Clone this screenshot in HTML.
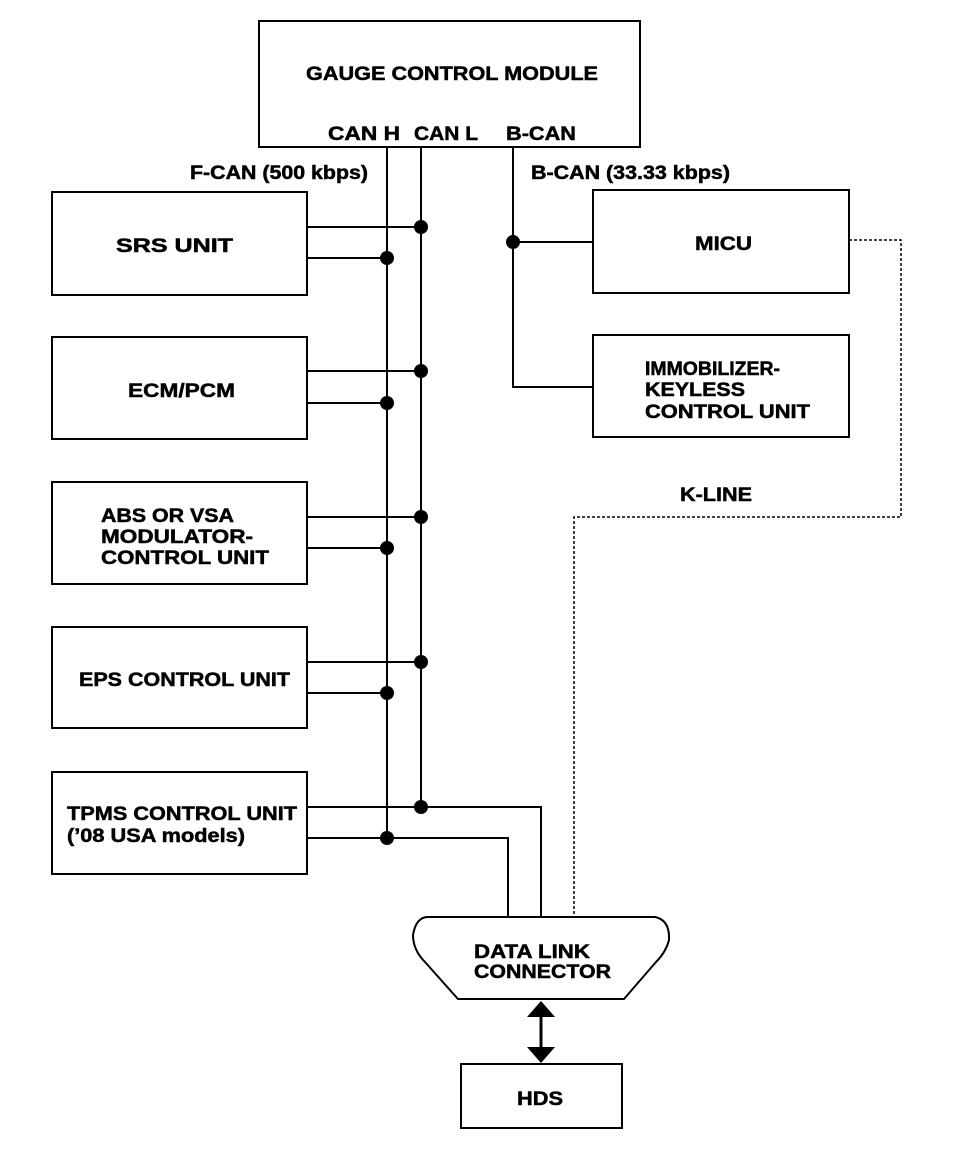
<!DOCTYPE html>
<html><head><meta charset="utf-8"><style>
html,body{margin:0;padding:0;background:#fff}
svg{display:block}
text{font-family:"Liberation Sans",Arial,sans-serif;font-weight:bold;font-size:19px;fill:#000;stroke:#000;stroke-width:0.5}
</style></head><body>
<svg width="960" height="1166" viewBox="0 0 960 1166" xmlns="http://www.w3.org/2000/svg">
<g fill="none" stroke="#000" stroke-width="2">
<rect x="259" y="21" width="381" height="126"/>
<rect x="52" y="192" width="255" height="103"/>
<rect x="52" y="337" width="255" height="102"/>
<rect x="52" y="482" width="255" height="102"/>
<rect x="52" y="627" width="255" height="101"/>
<rect x="52" y="772" width="255" height="102"/>
<rect x="593" y="190" width="256" height="103"/>
<rect x="593" y="335" width="256" height="102"/>
<rect x="461" y="1064" width="161" height="64"/>
<line x1="387" y1="147" x2="387" y2="838"/>
<line x1="421" y1="147" x2="421" y2="807"/>
<polyline points="513,147 513,387 593,387"/>
<line x1="513" y1="242" x2="593" y2="242"/>
<line x1="307" y1="227" x2="421" y2="227"/>
<line x1="307" y1="258" x2="387" y2="258"/>
<line x1="307" y1="371" x2="421" y2="371"/>
<line x1="307" y1="403" x2="387" y2="403"/>
<line x1="307" y1="517" x2="421" y2="517"/>
<line x1="307" y1="548" x2="387" y2="548"/>
<line x1="307" y1="662" x2="421" y2="662"/>
<line x1="307" y1="693" x2="387" y2="693"/>
<polyline points="307,807 541,807 541,917"/>
<polyline points="307,838 508,838 508,917"/>
<polyline points="849,240 901,240 901,517 574,517 574,917" stroke-width="1.5" stroke-dasharray="3,2"/>
<path d="M428,917 L655,917 Q670,920 669,940 Q666,952 656,962 L624,999 L458,999 L425,962 Q413,950 413,935 Q416,917 428,917 Z"/>
<line x1="541" y1="1015" x2="541" y2="1050" stroke-width="3"/>
</g>
<g fill="#000">
<circle cx="421" cy="227" r="7"/><circle cx="387" cy="258" r="7"/>
<circle cx="421" cy="371" r="7"/><circle cx="387" cy="403" r="7"/>
<circle cx="421" cy="517" r="7"/><circle cx="387" cy="548" r="7"/>
<circle cx="421" cy="662" r="7"/><circle cx="387" cy="693" r="7"/>
<circle cx="421" cy="807" r="7"/><circle cx="387" cy="838" r="7"/>
<circle cx="513" cy="242" r="7"/>
<polygon points="541,1001 527,1017 555,1017"/>
<polygon points="541,1063 527,1047 555,1047"/>
</g>
<text x="306" y="80" textLength="292" lengthAdjust="spacingAndGlyphs">GAUGE CONTROL MODULE</text>
<text x="328" y="140" textLength="72" lengthAdjust="spacingAndGlyphs">CAN H</text>
<text x="414" y="140" textLength="64" lengthAdjust="spacingAndGlyphs">CAN L</text>
<text x="506" y="140" textLength="70" lengthAdjust="spacingAndGlyphs">B-CAN</text>
<text x="190" y="179" textLength="178" lengthAdjust="spacingAndGlyphs">F-CAN (500 kbps)</text>
<text x="531" y="179" textLength="199" lengthAdjust="spacingAndGlyphs">B-CAN (33.33 kbps)</text>
<text x="116" y="252" textLength="117" lengthAdjust="spacingAndGlyphs">SRS UNIT</text>
<text x="128" y="397" textLength="107" lengthAdjust="spacingAndGlyphs">ECM/PCM</text>
<text x="101" y="522" textLength="133" lengthAdjust="spacingAndGlyphs">ABS OR VSA</text>
<text x="101" y="543" textLength="152" lengthAdjust="spacingAndGlyphs">MODULATOR-</text>
<text x="101" y="564" textLength="168" lengthAdjust="spacingAndGlyphs">CONTROL UNIT</text>
<text x="79" y="686" textLength="211" lengthAdjust="spacingAndGlyphs">EPS CONTROL UNIT</text>
<text x="67" y="820" textLength="230" lengthAdjust="spacingAndGlyphs">TPMS CONTROL UNIT</text>
<text x="67" y="842" textLength="178" lengthAdjust="spacingAndGlyphs">(’08 USA models)</text>
<text x="695" y="250" textLength="57" lengthAdjust="spacingAndGlyphs">MICU</text>
<text x="645" y="375" textLength="135" lengthAdjust="spacingAndGlyphs">IMMOBILIZER-</text>
<text x="645" y="396" textLength="100" lengthAdjust="spacingAndGlyphs">KEYLESS</text>
<text x="645" y="418" textLength="165" lengthAdjust="spacingAndGlyphs">CONTROL UNIT</text>
<text x="680" y="501" textLength="72" lengthAdjust="spacingAndGlyphs">K-LINE</text>
<text x="474" y="958" textLength="116" lengthAdjust="spacingAndGlyphs">DATA LINK</text>
<text x="474" y="978" textLength="137" lengthAdjust="spacingAndGlyphs">CONNECTOR</text>
<text x="517" y="1105" textLength="46" lengthAdjust="spacingAndGlyphs">HDS</text>
</svg>
</body></html>
